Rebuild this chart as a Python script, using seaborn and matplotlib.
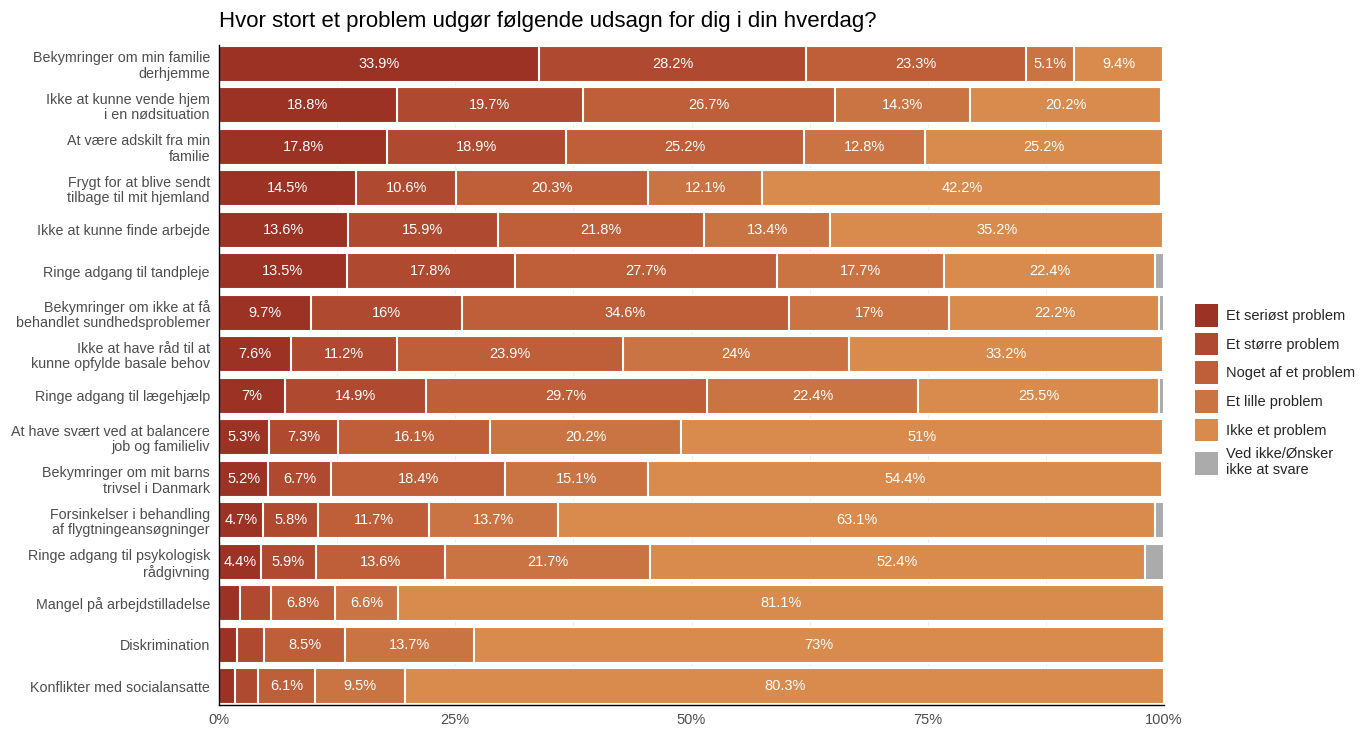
import numpy as np
import pandas as pd
import matplotlib
matplotlib.use("Agg")
import matplotlib.pyplot as plt
import seaborn as sns
from matplotlib.patches import Patch

categories = [
    "Bekymringer om min familie\nderhjemme",
    "Ikke at kunne vende hjem\ni en nødsituation",
    "At være adskilt fra min\nfamilie",
    "Frygt for at blive sendt\ntilbage til mit hjemland",
    "Ikke at kunne finde arbejde",
    "Ringe adgang til tandpleje",
    "Bekymringer om ikke at få\nbehandlet sundhedsproblemer",
    "Ikke at have råd til at\nkunne opfylde basale behov",
    "Ringe adgang til lægehjælp",
    "At have svært ved at balancere\njob og familieliv",
    "Bekymringer om mit barns\ntrivsel i Danmark",
    "Forsinkelser i behandling\naf flygtningeansøgninger",
    "Ringe adgang til psykologisk\nrådgivning",
    "Mangel på arbejdstilladelse",
    "Diskrimination",
    "Konflikter med socialansatte",
]

levels = ["Et seriøst problem", "Et større problem", "Noget af et problem",
          "Et lille problem", "Ikke et problem", "Ved ikke/Ønsker\nikke at svare"]

serious = [33.9, 18.8, 17.8, 14.5, 13.6, 13.5, 9.7, 7.6, 7.0, 5.3, 5.2, 4.7, 4.4, 2.2, 1.9, 1.7]
larger = [28.2, 19.7, 18.9, 10.6, 15.9, 17.8, 16.0, 11.2, 14.9, 7.3, 6.7, 5.8, 5.9, 3.3, 2.9, 2.4]
some = [23.3, 26.7, 25.2, 20.3, 21.8, 27.7, 34.6, 23.9, 29.7, 16.1, 18.4, 11.7, 13.6, 6.8, 8.5, 6.1]
small = [5.1, 14.3, 12.8, 12.1, 13.4, 17.7, 17.0, 24.0, 22.4, 20.2, 15.1, 13.7, 21.7, 6.6, 13.7, 9.5]
none_ = [9.4, 20.2, 25.2, 42.2, 35.2, 22.4, 22.2, 33.2, 25.5, 51.0, 54.4, 63.1, 52.4, 81.1, 73.0, 80.3]
dontknow = [0.0, 0.0, 0.0, 0.0, 0.0, 0.9, 0.5, 0.0, 0.5, 0.0, 0.0, 1.0, 2.0, 0.0, 0.0, 0.0]

colors = ["#9B3224", "#AF4A30", "#BE5F39", "#CB7443", "#D88B4D", "#ABABAB"]

series = [serious, larger, some, small, none_, dontknow]

sns.set_theme(style="white")
plt.rcParams['font.family'] = ['Liberation Sans', 'DejaVu Sans']

fig = plt.figure(figsize=(13.64, 7.31), dpi=100)
ax = fig.add_axes([219/1364, 1-705/731, 945/1364, 660/731])

vals = np.array(series)  # (6, 16)
cum = np.cumsum(vals, axis=0)

# draw cumulative layers back to front
for i in range(len(levels)-1, -1, -1):
    df = pd.DataFrame({"cat": categories, "value": cum[i]})
    sns.barplot(data=df, x="value", y="cat", orient="h", color=colors[i],
                saturation=1, width=0.87, edgecolor="white", linewidth=1.5, ax=ax)

# labels
for i in range(5):
    for j in range(len(categories)):
        v = vals[i, j]
        if v >= 4:
            start = cum[i, j] - v
            txt = f"{v:g}%"
            ax.text(start + v/2, j, txt, ha="center", va="center",
                    color="white", fontsize=10.5)

ax.set_xlim(0, 100)
ax.set_ylim(15.45, -0.45)
ax.set_xticks([0, 25, 50, 75, 100])
ax.set_xticklabels(["0%", "25%", "50%", "75%", "100%"], fontsize=10.5, color="#4D4D4D")
ax.tick_params(axis="y", labelsize=10.3, labelcolor="#4D4D4D", length=3, color="#333333", width=0.8)
ax.tick_params(axis="x", length=3, color="#333333", width=0.8, pad=3)
for lab in ax.get_yticklabels():
    lab.set_linespacing(1.15)
ax.set_xlabel("")
ax.set_ylabel("")
for s in ["top", "right"]:
    ax.spines[s].set_visible(False)
for s in ["left", "bottom"]:
    ax.spines[s].set_color("black")
    ax.spines[s].set_linewidth(1.0)
for x in [12.5, 25, 37.5, 50, 62.5, 75, 87.5]:
    ax.axvline(x, color="#EBEBEB", lw=0.6, zorder=0)
ax.set_axisbelow(True)

fig.text(219/1364, 1-22/731, "Hvor stort et problem udgør følgende udsagn for dig i din hverdag?",
         fontsize=16, ha="left", va="center", color="black")

handles = [Patch(facecolor=c, edgecolor="none", label=l) for c, l in zip(colors, levels)]
fig.legend(handles=handles, loc="upper left", bbox_to_anchor=(1195/1364, 1-304/731),
           frameon=False, fontsize=10.5, handlelength=1.6, handleheight=2.0,
           handletextpad=0.55, labelspacing=0.42, borderaxespad=0, borderpad=0)

fig.savefig("out.png", dpi=100)
